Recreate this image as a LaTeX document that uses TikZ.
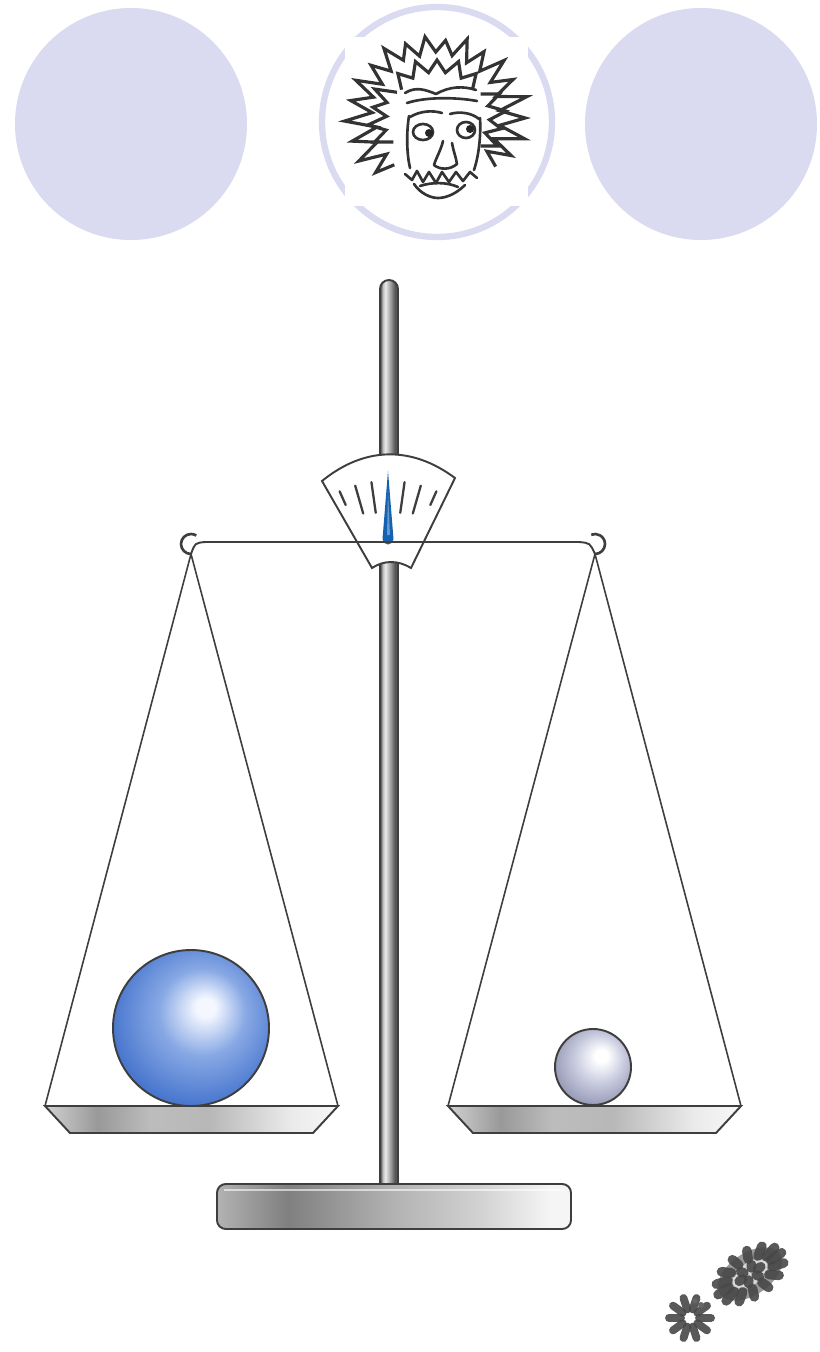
\documentclass[tikz,border=0pt]{standalone}
\usepackage{tikz}
\usepackage{xcolor}
\usetikzlibrary{shapes.geometric, positioning, arrows}

\definecolor{lav}{RGB}{218,218,240}
\definecolor{rim}{RGB}{62,62,62}
\definecolor{needleblue}{RGB}{22,98,178}
\definecolor{ballhi}{RGB}{244,247,255}
\definecolor{ballmid}{RGB}{135,168,228}
\definecolor{balledge}{RGB}{72,118,206}
\definecolor{pearlmid}{RGB}{205,208,226}
\definecolor{pearledge}{RGB}{150,154,182}

% steel look for rod, pans and foot
\pgfdeclarehorizontalshading{rod}{100bp}{color(0bp)=(black!75); color(25bp)=(black!75); color(33bp)=(black!25); color(40bp)=(black!8); color(55bp)=(black!40); color(68bp)=(black!70); color(75bp)=(black!45); color(100bp)=(black!45)}
\pgfdeclarehorizontalshading{pan}{100bp}{color(0bp)=(black!18); color(25bp)=(black!18); color(34bp)=(black!40); color(43bp)=(black!26); color(53bp)=(black!28); color(67bp)=(black!8); color(75bp)=(black!3); color(100bp)=(black!3)}
\pgfdeclarehorizontalshading{foot}{100bp}{color(0bp)=(black!30); color(25bp)=(black!30); color(35bp)=(black!50); color(50bp)=(black!30); color(62bp)=(black!18); color(72bp)=(black!4); color(100bp)=(black!4)}
% the two weights
\pgfdeclareradialshading{bigweight}{\pgfpoint{5bp}{7bp}}{color(0bp)=(ballhi); color(3bp)=(ballhi); color(14bp)=(ballmid); color(28bp)=(balledge); color(50bp)=(balledge)}
\pgfdeclareradialshading{smallweight}{\pgfpoint{6bp}{8bp}}{color(0bp)=(white); color(4bp)=(white); color(15bp)=(pearlmid); color(29bp)=(pearledge); color(50bp)=(pearledge)}

\begin{document}
\begin{tikzpicture}[x=0.02cm, y=-0.02cm,
  outline/.style={draw=rim, line width=1.1pt},
  cord/.style={draw=rim, line width=0.9pt},
  ink/.style={draw=black!80, line width=1.5pt, line cap=round, line join=round},
  hair/.style={draw=black!80, line width=1.8pt, line join=miter, miter limit=20},
  dialtick/.style={draw=rim, line width=1.3pt, line cap=round},
  print/.style={draw=black!72, line width=5.5pt, line cap=round, opacity=0.9}]
\useasboundingbox (0,0) rectangle (820,1352);
\fill[white] (0,0) rectangle (820,1352);

% three discs on top
\fill[lav] (131,124) circle (116);
\fill[lav] (701,124) circle (116);
\draw[lav, line width=3.6pt] (437,122) circle (115);
\fill[white] (345,37) rectangle (528,206);

% the face in the middle disc
\begin{scope}[shift={(437,118)}, xscale=1.05]
\draw[hair] (131:62) \foreach \a/\r in {137/80, 143/60, 150/86, 157/62, 164/84, 171/58, 178/88, 185/62, 192/84, 199/64, 206/86, 213/62, 220/82, 227/64, 234/86, 241/66, 248/80, 255/64, 262/82, 269/66, 276/78, 283/64, 290/84, 297/62, 304/80, 311/62, 318/86, 325/62, 332/82, 339/60, 346/88, 353/60, 360/84, 367/60, 374/86, 381/58, 388/80, 395/58, 401/74} { -- (\a:\r) };
\draw[hair] (150:48) \foreach \a/\r in {158/64, 166/50, 174/66, 182/48, 190/62, 198/50, 206/66, 214/46} { -- (\a:\r) };
\draw[hair] (330:48) \foreach \a/\r in {338/64, 346/50, 354/66, 2/50, 10/62, 18/48, 26/64, 34/50} { -- (\a:\r) };
\draw[hair] (220:44) \foreach \a/\r in {230/58, 240/46, 250/60, 260/46, 270/58, 280/46, 290/60, 300/46, 310/58, 320/44} { -- (\a:\r) };
\end{scope}
\draw[ink] (405,93) .. controls (416,86) and (426,90) .. (436,94) .. controls (450,86) and (464,86) .. (476,90);
\draw[ink] (407,103) .. controls (425,97) and (455,97) .. (477,101);
\draw[ink] (410,117) .. controls (420,111) and (432,110) .. (442,113);
\draw[ink] (450,114) .. controls (460,111) and (472,113) .. (479,119);
\draw[ink] (423,132) ellipse (10 and 8);
\fill[black!85] (429,133) circle (4);
\draw[ink] (466,130) ellipse (9 and 8);
\fill[black!85] (470,129) circle (4);
\draw[ink] (443,141) .. controls (441,150) and (436,158) .. (434,165) .. controls (440,170) and (450,170) .. (457,164) .. controls (456,157) and (453,150) .. (452,143);
\draw[ink] (405,174) -- (412,180) -- (417,171) -- (423,182) -- (429,172) -- (436,183) -- (442,172) -- (449,182) -- (456,172) -- (463,181) -- (470,172) -- (477,178);
\draw[ink] (420,186) .. controls (432,182) and (447,182) .. (458,187);
\draw[ink] (414,184) .. controls (420,193) and (430,198) .. (438,198) .. controls (448,198) and (458,192) .. (465,185);
\draw[ink] (409,116) .. controls (406,135) and (407,155) .. (410,168);
\draw[ink] (480,118) .. controls (481,135) and (479,155) .. (474,170);

% upright rod
\shade[shading=rod, outline] (380,1185) -- (380,289) arc[start angle=180, end angle=360, radius=9] -- (398,1185) -- cycle;

% dial
\draw[outline, fill=white] (322,481) .. controls (365,446) and (412,446) .. (455,478) -- (411,568) .. controls (398,560) and (384,560) .. (372,568) -- cycle;
\begin{scope}[shift={(388,600)}]
\foreach \a/\ri in {246/104, 254/90, 262/88, 278/88, 286/90, 294/104}
  \draw[dialtick] (\a:\ri) -- (\a:119);
\end{scope}
\fill[needleblue] (388,471) -- (393.5,539) arc[start angle=0, end angle=180, radius=5.5] -- cycle;
\fill[white, opacity=0.35] (388,490) -- (390,535) -- (387,535) -- cycle;

% beam with hooks
\coordinate (lhook) at (191,554);
\coordinate (rhook) at (595,554);
\draw[outline] (lhook) .. controls (195,543) .. (205,542) -- (579,542) .. controls (590,543) .. (rhook);
\draw[outline, line width=1.5pt] (lhook) arc[start angle=90, end angle=302, radius=10];
\draw[outline, line width=1.5pt] (rhook) arc[start angle=90, end angle=-112, radius=10];

% pan corners
\coordinate (lpanL) at (45,1106);
\coordinate (lpanR) at (338,1106);
\coordinate (rpanL) at (448,1106);
\coordinate (rpanR) at (741,1106);
\draw[cord] (lhook) -- (lpanL) (lhook) -- (lpanR);
\draw[cord] (rhook) -- (rpanL) (rhook) -- (rpanR);

% weights
\shade[shading=bigweight, outline] (191,1028) circle (78);
\shade[shading=smallweight, outline] (593,1067) circle (38);

% pans
\shade[shading=pan, outline] (lpanL) -- (70,1133) -- (313,1133) -- (lpanR) -- cycle;
\shade[shading=pan, outline] (rpanL) -- (473,1133) -- (716,1133) -- (rpanR) -- cycle;

% foot of the stand
\shade[shading=foot, outline, rounded corners=5] (217,1184) rectangle (571,1229);
\draw[white, opacity=0.6, line width=0.6pt] (224,1190) -- (564,1190);

% footprints
\begin{scope}[shift={(750,1274)}, rotate=34]
\fill[black!50, opacity=0.8] (0,0) ellipse (36 and 21);
\fill[black!15] (0,0) ellipse (20 and 11);
\foreach \a in {0,26,...,338} \draw[print] (\a:25 and 14) -- (\a:38 and 22);
\foreach \a in {0,60,...,300} \draw[print] (\a:9 and 5) -- (\a:13 and 8);
\end{scope}
\begin{scope}[shift={(690,1318)}]
\foreach \a in {0,36,...,324} \draw[print, line width=4.5pt] (\a:9) -- (\a:21);
\end{scope}
\fill[black!60] (701,1305) circle (3) (695,1301) circle (2.5);
\end{tikzpicture}
\end{document}
